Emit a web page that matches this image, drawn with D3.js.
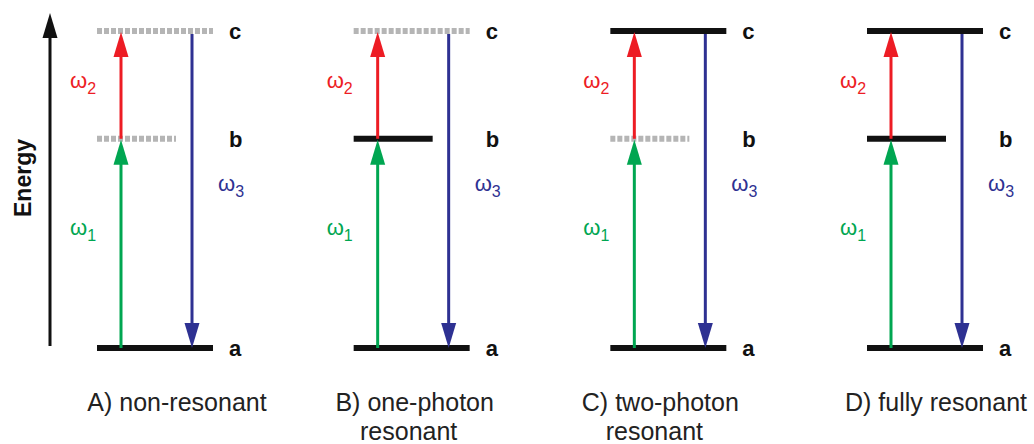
<!DOCTYPE html>
<html>
<head>
<meta charset="utf-8">
<script src="https://cdn.jsdelivr.net/npm/d3@7"></script>
<style>
  body { margin: 0; background: #fff; }
  svg { display: block; font-family: "Liberation Sans", Arial, sans-serif; }
</style>
</head>
<body>
<div id="chart"></div>
<script>
// panels and their captions
const panels = ["A", "B", "C", "D"];
const captionLine1 = ["A) non-resonant", "B) one-photon", "C) two-photon", "D) fully resonant"];
const captionLine2 = ["", "resonant", "resonant", ""];

// energy levels (relative energy) and which are real states in each panel
const levels = ["a", "b", "c"];
const levelEnergy = [0, 0.66, 1];
const bResonant = [false, true, false, true];
const cResonant = [false, false, true, true];

// the three photons
const photons = ["1", "2", "3"];
const photonFrom = ["a", "b", "c"];
const photonTo = ["b", "c", "a"];
const photonColor = ["#00a651", "#ed1c24", "#2e3192"];

const width = 1034;
const height = 444;

const svg = d3
  .select("#chart")
  .append("svg")
  .attr("width", width)
  .attr("height", height);

const x = d3.scalePoint().domain(panels).range([97, 867]);
const y = d3.scaleLinear().domain([0, 1]).range([348, 31]);
const energyOf = (name) => levelEnergy[levels.indexOf(name)];

// layout inside a panel
const levelW = 116;
const shortW = 79;
const upX = 24;
const downX = 95;
const captionShift = [80, 61, 50, 69];
const labelDy = [-8, 3, 1];

function arrowHead(g, cx, tipY, dir, color) {
  // dir = -1 points up, 1 points down
  const len = 25;
  const half = 7.5;
  g.append("path")
    .attr("d", `M${cx},${tipY} L${cx - half},${tipY - dir * len} L${cx + half},${tipY - dir * len} Z`)
    .attr("fill", color);
}

// energy axis
const axis = svg.append("g");
axis
  .append("line")
  .attr("x1", 50)
  .attr("x2", 50)
  .attr("y1", y(0) - 2)
  .attr("y2", 36)
  .attr("stroke", "#111")
  .attr("stroke-width", 3);
arrowHead(axis, 50, 13, -1, "#111");
axis
  .append("text")
  .attr("transform", "translate(31,178) rotate(-90)")
  .attr("text-anchor", "middle")
  .attr("font-weight", "bold")
  .attr("font-size", 23)
  .attr("fill", "#111")
  .text("Energy");

panels.forEach((p, i) => {
  const g = svg.append("g").attr("transform", `translate(${x(p)},0)`);
  const real = { a: true, b: bResonant[i], c: cResonant[i] };

  // levels
  levels.forEach((lv) => {
    const ly = y(energyOf(lv));
    g.append("line")
      .attr("x1", 0)
      .attr("x2", lv === "b" ? shortW : levelW)
      .attr("y1", ly)
      .attr("y2", ly)
      .attr("stroke", real[lv] ? "#111" : "#b5b5b5")
      .attr("stroke-width", 6)
      .attr("stroke-dasharray", real[lv] ? null : "5,2");
    g.append("text")
      .attr("x", 132)
      .attr("y", ly + 8)
      .attr("font-weight", "bold")
      .attr("font-size", 22)
      .attr("fill", "#111")
      .text(lv);
  });

  // transitions
  photons.forEach((ph, k) => {
    const y0 = y(energyOf(photonFrom[k]));
    const y1 = y(energyOf(photonTo[k]));
    const dir = y1 < y0 ? -1 : 1;
    const cx = dir < 0 ? upX : downX;
    const start = dir < 0 ? y0 : y0 + 3;
    const tip = dir < 0 ? y1 + 1 : y1;
    g.append("line")
      .attr("x1", cx)
      .attr("x2", cx)
      .attr("y1", start)
      .attr("y2", tip - dir * 20)
      .attr("stroke", photonColor[k])
      .attr("stroke-width", 3);
    arrowHead(g, cx, tip, dir, photonColor[k]);

    const lx = dir < 0 ? -27 : downX + 26;
    const lbl = g
      .append("text")
      .attr("x", lx)
      .attr("y", (y0 + y1) / 2 + labelDy[k])
      .attr("fill", photonColor[k])
      .attr("font-size", 22);
    lbl.append("tspan").text("\u03c9");
    lbl.append("tspan").attr("font-size", 16).attr("dy", 6).text(ph);
  });

  // caption
  const cap = g
    .append("text")
    .attr("text-anchor", "middle")
    .attr("font-size", 25)
    .attr("fill", "#222");
  cap.append("tspan").attr("x", captionShift[i]).attr("y", 411).text(captionLine1[i]);
  if (captionLine2[i]) {
    cap.append("tspan").attr("x", captionShift[i] - 6).attr("y", 440).text(captionLine2[i]);
  }
});
</script>
</body>
</html>
